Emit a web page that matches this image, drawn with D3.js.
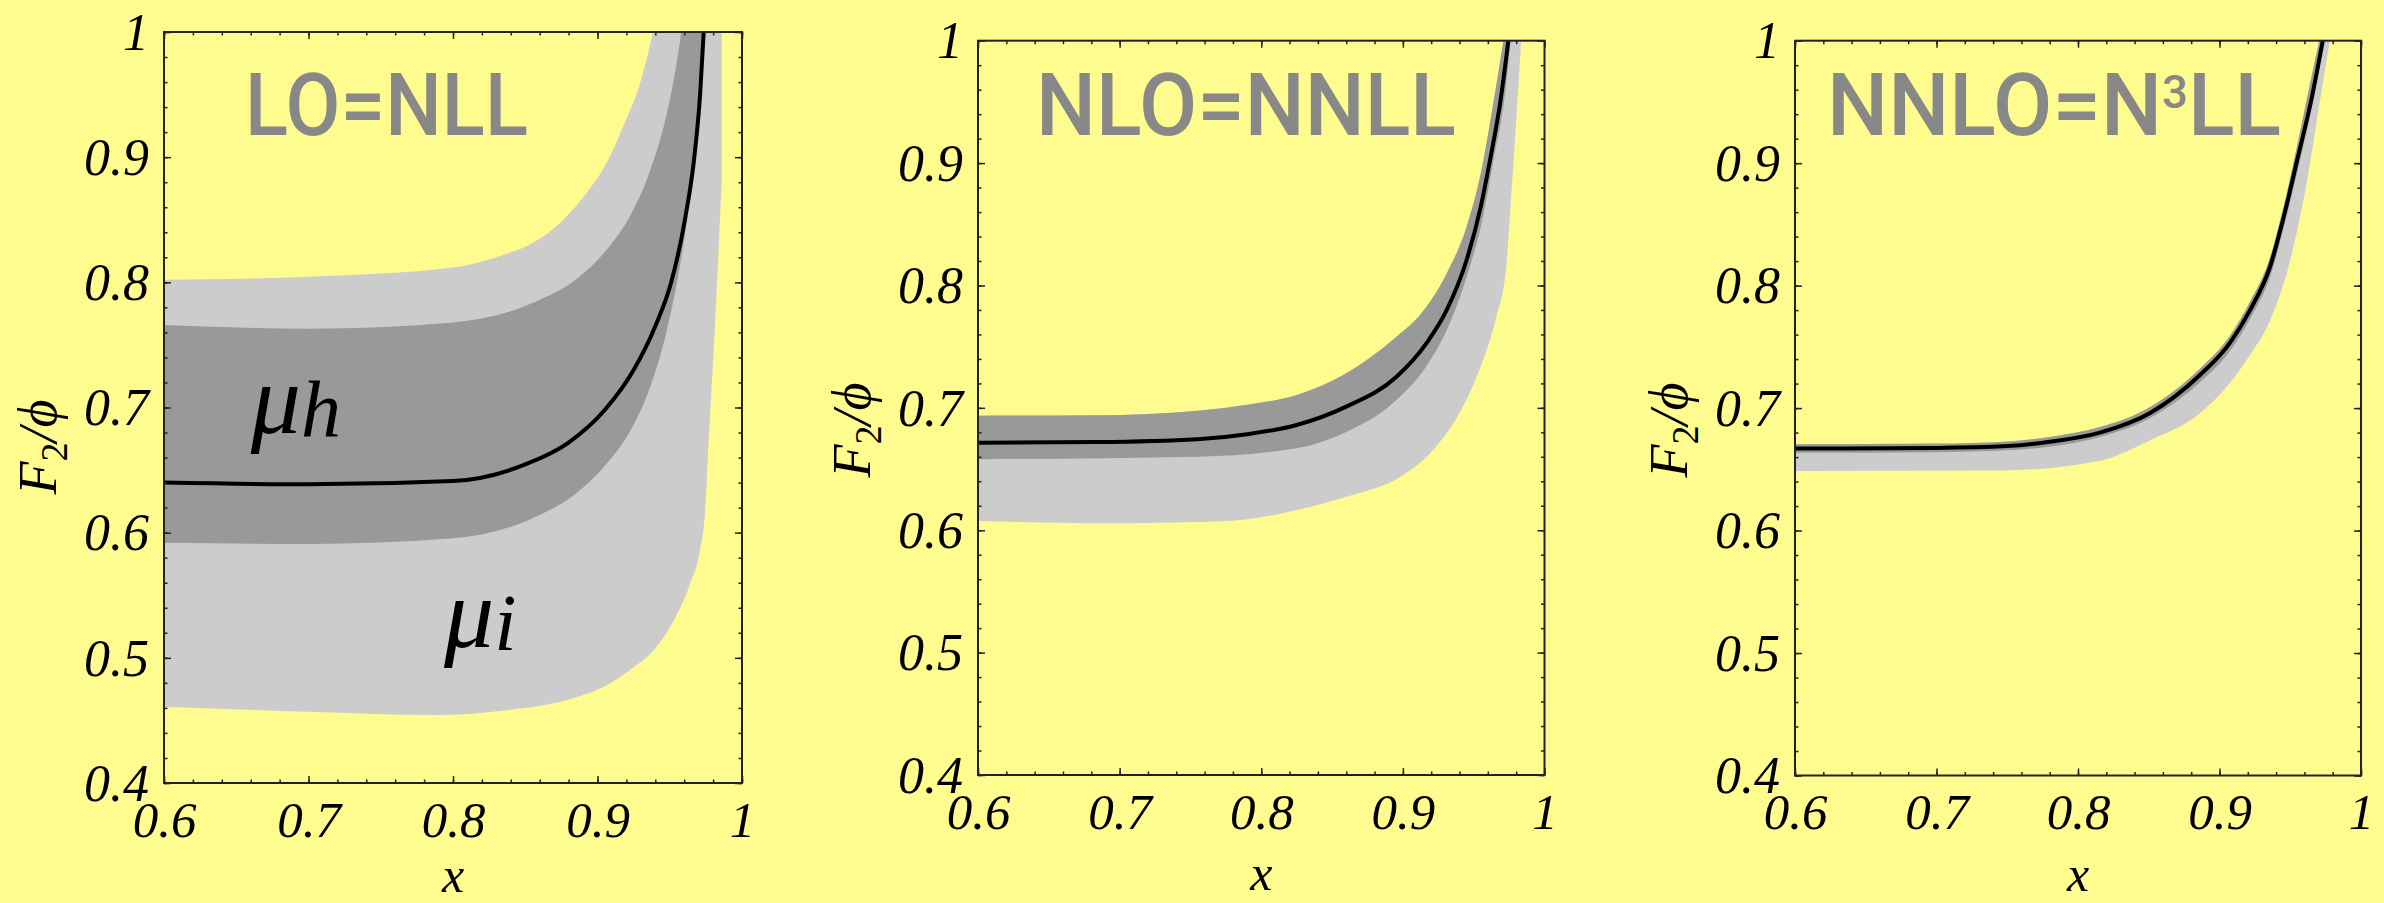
<!DOCTYPE html>
<html>
<head>
<meta charset="utf-8">
<script src="https://cdn.jsdelivr.net/npm/d3@7"></script>
<style>
  html, body { margin: 0; padding: 0; background: #fffc8f; }
  svg { display: block; }
</style>
</head>
<body>
<div id="chart"></div>
<script>
// F2/phi against x at three orders, bands from scale variations.
// Points.

const titles = ["LO=NLL", "NLO=NNLL", "NNLO=N3LL"];
const xTicks = [0.6, 0.7, 0.8, 0.9, 1];
const yTicks = [0.4, 0.5, 0.6, 0.7, 0.8, 0.9, 1];

// LO = NLL
const loLine = [[0.6,0.640],[0.7,0.6386],[0.8,0.6412],[0.85,0.6545],[0.88,0.672],[0.905,0.698],
  [0.925,0.730],[0.94,0.765],[0.951,0.800],[0.9605,0.850],[0.967,0.900],[0.971,0.950],[0.9735,1.0]];
const loDarkUpper = [[0.6,0.766],[0.7,0.763],[0.8,0.768],[0.855,0.7835],[0.887,0.804],[0.907,0.827],
  [0.923,0.854],[0.936,0.888],[0.947,0.930],[0.954,0.970],[0.958,1.0]];
const loDarkLower = [[0.6,0.592],[0.7,0.591],[0.8,0.5955],[0.855,0.6115],[0.886,0.632],[0.907,0.656],
  [0.923,0.682],[0.936,0.715],[0.947,0.757],[0.955,0.800],[0.962,0.850],[0.968,0.910],[0.972,0.960],[0.9745,1.0]];
const loLightUpper = [[0.6,0.802],[0.7,0.8045],[0.8,0.8118],[0.8337,0.8215],[0.8548,0.8312],[0.8758,0.8494],
  [0.8916,0.8701],[0.9074,0.898],[0.9179,0.925],[0.9284,0.955],[0.9385,1.0]];
const loLightLower = [[0.6,0.461],[0.7,0.457],[0.7883,0.4543],[0.8385,0.4583],[0.8787,0.4663],[0.9089,0.4797],
  [0.9256,0.493],[0.939,0.5063],[0.9541,0.5329],[0.9642,0.5596],[0.9709,0.586],[0.9745,0.618],
  [0.9766,0.666],[0.981,0.7593],[0.986,0.8818]];

// NLO = NNLL
const nloLine = [[0.6,0.6715],[0.684,0.672],[0.755,0.6743],[0.79,0.6784],[0.825,0.686],[0.86,0.701],
  [0.8955,0.7254],[0.9166,0.7527],[0.931,0.780],[0.945,0.8208],[0.955,0.8644],[0.962,0.9052],[0.969,0.9515],[0.9745,1.0]];
const nloDarkUpper = [[0.6,0.6936],[0.684,0.694],[0.755,0.6977],[0.79,0.7026],[0.825,0.7105],[0.86,0.7282],
  [0.8955,0.758],[0.913,0.7772],[0.931,0.810],[0.945,0.848],[0.955,0.8917],[0.964,0.950],[0.971,1.0]];
const nloDarkLower = [[0.6,0.658],[0.755,0.660],[0.825,0.667],[0.86,0.6803],[0.8955,0.7064],[0.9166,0.734],
  [0.931,0.7636],[0.945,0.807],[0.955,0.848],[0.964,0.9025],[0.973,0.965],[0.976,1.0]];
const nloLightLower = [[0.6,0.6075],[0.684,0.6057],[0.755,0.6067],[0.79,0.609],[0.825,0.6165],[0.86,0.6274],
  [0.90,0.645],[0.92,0.664],[0.941,0.698],[0.955,0.734],[0.966,0.7745],[0.973,0.8153],[0.976,0.865],
  [0.9795,0.925],[0.9835,1.0]];

// NNLO = N3LL
const nnloLine = [[0.6,0.667],[0.7,0.6675],[0.75,0.669],[0.78,0.6725],[0.8155,0.680],[0.851,0.696],[0.886,0.7268],
  [0.907,0.7527],[0.9216,0.780],[0.9357,0.8153],[0.946,0.859],[0.955,0.903],[0.9655,0.955],[0.973,1.0]];
const nnloDarkUpper = [[0.6,0.6705],[0.7,0.671],[0.75,0.6728],[0.78,0.6765],[0.8155,0.6845],[0.851,0.701],[0.886,0.732],
  [0.907,0.7585],[0.9216,0.787],[0.9357,0.823],[0.946,0.868],[0.955,0.915],[0.964,0.965],[0.9705,1.0]];
const nnloDarkLower = [[0.6,0.6635],[0.7,0.664],[0.75,0.6655],[0.78,0.6685],[0.8155,0.6765],[0.851,0.692],[0.886,0.721],
  [0.907,0.746],[0.9216,0.773],[0.9357,0.807],[0.946,0.850],[0.955,0.893],[0.9655,0.947],[0.974,1.0]];
const nnloLightLower = [[0.6,0.6486],[0.745,0.649],[0.8155,0.657],[0.851,0.6737],[0.886,0.6955],[0.907,0.720],
  [0.9216,0.7435],[0.9357,0.7716],[0.95,0.8208],[0.9604,0.8765],[0.971,0.951],[0.978,1.0]];

const W = 2384, H = 903;
const bg = "#fffc8f", lightGray = "#cccccc", darkGray = "#999999", titleGray = "#888888";

const panels = [
  { left: 164, top: 32, right: 742, bottom: 783, title: [245, 528], yTitle: 447,
    light: [loLightUpper, loLightLower], dark: [loDarkUpper, loDarkLower], line: loLine },
  { left: 978, top: 40.7, right: 1544.5, bottom: 775, title: [1036, 1456], yTitle: 430,
    light: [nloDarkUpper, nloLightLower], dark: [nloDarkUpper, nloDarkLower], line: nloLine },
  { left: 1795, top: 40.7, right: 2361, bottom: 775.5, title: [1827, 2281], yTitle: 430,
    light: [nnloDarkUpper, nnloLightLower], dark: [nnloDarkUpper, nnloDarkLower], line: nnloLine }
];

const svg = d3.select("#chart").append("svg")
    .attr("width", W)
    .attr("height", H);

svg.append("rect").attr("width", W).attr("height", H).attr("fill", bg);

const serif = "'Liberation Serif', 'Times New Roman', serif";
const fmt = d3.format("~g");
const xMinor = d3.range(0.6, 1.0001, 0.02);
const yMinor = d3.range(0.4, 1.0001, 0.02);

panels.forEach((p, i) => {
  const x = d3.scaleLinear().domain([0.6, 1]).range([p.left, p.right]);
  const y = d3.scaleLinear().domain([0.4, 1]).range([p.bottom, p.top]);
  const g = svg.append("g");

  g.append("clipPath").attr("id", "clip" + i)
    .append("rect")
      .attr("x", p.left).attr("y", p.top)
      .attr("width", p.right - p.left).attr("height", p.bottom - p.top);

  const plot = g.append("g").attr("clip-path", `url(#clip${i})`);

  const edge = d3.line()
      .x(d => x(d[0]))
      .y(d => y(d[1]))
      .curve(d3.curveMonotoneX);

  // region below/right of an edge, closed well outside the frame
  const under = pts => {
    const last = pts[pts.length - 1];
    return edge(pts) +
      `L${x(last[0])},${y(1.2)}L${x(1.1)},${y(1.2)}L${x(1.1)},${y(0.3)}` +
      `L${x(0.5)},${y(0.3)}L${x(0.5)},${y(pts[0][1])}Z`;
  };
  const band = (upper, lower) => under(upper) + under(lower);

  plot.append("path").attr("d", band(p.light[0], p.light[1]))
      .attr("fill", lightGray).attr("fill-rule", "evenodd");
  plot.append("path").attr("d", band(p.dark[0], p.dark[1]))
      .attr("fill", darkGray).attr("fill-rule", "evenodd");
  plot.append("path").attr("d", edge(p.line))
      .attr("fill", "none").attr("stroke", "#000").attr("stroke-width", 4);

  // title
  const t = g.append("text")
      .attr("fill", titleGray)
      .style("font-family", "Roboto, sans-serif")
      .style("font-weight", 500)
      .style("font-size", "87px");
  const name = titles[i];
  if (name.includes("3")) {
    const [a, b] = name.split("3");
    t.append("tspan").text(a);
    t.append("tspan").attr("dy", -27).style("font-size", "46px").text("3");
    t.append("tspan").attr("dy", 27).text(b);
  } else {
    t.text(name);
  }
  const bb = t.node().getBBox();
  const sx = (p.title[1] - p.title[0]) / bb.width;
  t.attr("transform", `translate(${p.title[0] - bb.x * sx},135) scale(${sx},1)`);

  // axes: ticks point inward, labels only left and bottom
  const tickStyle = sel => {
    sel.select(".domain").remove();
    sel.selectAll(".tick line").attr("stroke", "#222").attr("stroke-width", 1.5);
  };

  g.append("g").attr("transform", `translate(0,${p.bottom})`)
      .call(d3.axisBottom(x).tickValues(xMinor).tickSize(-3.5).tickFormat("")).call(tickStyle);
  const bottomMajor = g.append("g").attr("transform", `translate(0,${p.bottom})`)
      .call(d3.axisBottom(x).tickValues(xTicks).tickSize(-7).tickPadding(17.5).tickFormat(fmt))
      .call(tickStyle);
  bottomMajor.selectAll("text")
      .attr("fill", "#000").attr("dy", "0.71em")
      .style("font-family", serif).style("font-style", "italic").style("font-size", "51px");

  g.append("g").attr("transform", `translate(0,${p.top})`)
      .call(d3.axisTop(x).tickValues(xMinor).tickSize(-3.5).tickFormat("")).call(tickStyle);
  g.append("g").attr("transform", `translate(0,${p.top})`)
      .call(d3.axisTop(x).tickValues(xTicks).tickSize(-7).tickFormat("")).call(tickStyle);

  g.append("g").attr("transform", `translate(${p.left},0)`)
      .call(d3.axisLeft(y).tickValues(yMinor).tickSize(-3.5).tickFormat("")).call(tickStyle);
  const leftMajor = g.append("g").attr("transform", `translate(${p.left},0)`)
      .call(d3.axisLeft(y).tickValues(yTicks).tickSize(-7).tickPadding(15).tickFormat(fmt))
      .call(tickStyle);
  leftMajor.selectAll("text")
      .attr("fill", "#000").attr("dy", "0.33em")
      .style("font-family", serif).style("font-style", "italic").style("font-size", "52px");

  g.append("g").attr("transform", `translate(${p.right},0)`)
      .call(d3.axisRight(y).tickValues(yMinor).tickSize(-3.5).tickFormat("")).call(tickStyle);
  g.append("g").attr("transform", `translate(${p.right},0)`)
      .call(d3.axisRight(y).tickValues(yTicks).tickSize(-7).tickFormat("")).call(tickStyle);

  // frame
  g.append("rect")
      .attr("x", p.left).attr("y", p.top)
      .attr("width", p.right - p.left).attr("height", p.bottom - p.top)
      .attr("fill", "none").attr("stroke", "#222").attr("stroke-width", 2);

  // axis titles
  g.append("text")
      .attr("x", (p.left + p.right) / 2).attr("y", Math.min(p.bottom + 115, 892))
      .attr("text-anchor", "middle")
      .style("font-family", serif).style("font-style", "italic").style("font-size", "50px")
      .text("x");

  const yt = g.append("text")
      .attr("transform", `translate(${p.left - 108},${p.yTitle}) rotate(-90)`)
      .attr("text-anchor", "middle")
      .style("font-family", serif).style("font-size", "54px");
  yt.append("tspan").style("font-style", "italic").text("F");
  yt.append("tspan").attr("dy", 11).style("font-size", "38px").text("2");
  yt.append("tspan").attr("dy", -11).style("font-style", "italic").text("/ϕ");

  // scale labels in first panel
  if (i === 0) {
    const mu = (sub, mx, my) => {
      const m = g.append("text").attr("x", mx).attr("y", my)
          .style("font-family", serif).style("font-style", "italic").style("font-size", "100px");
      m.append("tspan").text("μ");
      m.append("tspan").attr("dy", 3).style("font-size", "80px").text(sub);
    };
    mu("h", x(0.660), y(0.680));
    mu("i", x(0.7938), y(0.509));
  }
});
</script>
</body>
</html>
